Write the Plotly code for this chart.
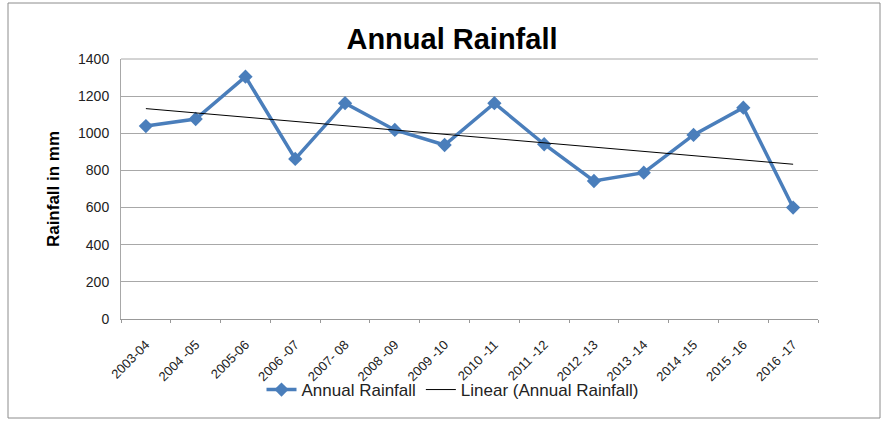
import numpy as np
import plotly.graph_objects as go

years = ["2003-04", "2004 -05", "2005-06", "2006 -07", "2007- 08", "2008 -09", "2009 -10",
         "2010 -11", "2011 -12", "2012 -13", "2013 -14", "2014 -15", "2015 -16", "2016 -17"]
rainfall = [1039, 1077, 1305, 862, 1162, 1018, 937, 1162, 941, 743, 788, 991, 1138, 600]

# Linear trend (least squares) computed from the data
idx = np.arange(len(rainfall))
slope, intercept = np.polyfit(idx, rainfall, 1)
trend = slope * idx + intercept

FONT = "Liberation Sans"

fig = go.Figure()
fig.add_trace(go.Scatter(
    x=years, y=rainfall, mode="lines+markers", name="Annual Rainfall",
    line=dict(color="#4A7EBB", width=3.5),
    marker=dict(symbol="diamond", size=11, color="#4A7EBB"),
))
fig.add_trace(go.Scatter(
    x=years, y=trend, mode="lines", name="Linear (Annual Rainfall)",
    line=dict(color="#000000", width=1),
))

L, R, T, B = 121, 818, 59, 319
W, H = 884, 421
def px(x):
    return (x - L) / (R - L)
def py(y):
    return (B - y) / (B - T)

fig.update_layout(
    width=W, height=H,
    margin=dict(l=L, r=W - R, t=T, b=H - B, autoexpand=False),
    paper_bgcolor="white", plot_bgcolor="white",
    font=dict(family=FONT, color="#000000"),
    title=dict(text="<b>Annual Rainfall</b>", x=452 / W, xanchor="center",
               y=1 - 39 / H, yanchor="middle", font=dict(size=29, family=FONT, color="#000")),
    showlegend=True,
    legend=dict(orientation="h", x=px(453), xanchor="center", y=py(390), yanchor="middle",
                font=dict(size=17, family=FONT, color="#222"), bgcolor="rgba(0,0,0,0)",
                tracegroupgap=0),
    xaxis=dict(
        type="category", tickangle=-45, tickfont=dict(size=13, family=FONT, color="#222"),
        showgrid=False, showline=True, linecolor="#999999", linewidth=1,
        ticks="outside", ticklen=3, tickcolor="#999999", tickson="boundaries",
        ticklabelstandoff=12,
        range=[-0.5, len(years) - 0.5], zeroline=False,
    ),
    yaxis=dict(
        range=[0, 1400], tickvals=[0, 200, 400, 600, 800, 1000, 1200, 1400],
        tickfont=dict(size=14, family=FONT, color="#222"),
        showgrid=True, gridcolor="#A8A8A8", gridwidth=1,
        showline=True, linecolor="#A8A8A8", linewidth=1, zeroline=False,
        ticks="", ticklabelstandoff=8,
        title=dict(text="<b>Rainfall in mm</b>", font=dict(size=17, family=FONT, color="#000"),
                   standoff=14),
    ),
    shapes=[
        dict(type="rect", xref="paper", yref="paper",
             x0=px(8), x1=px(880), y0=py(418), y1=py(3),
             line=dict(color="#8C8C8C", width=1), fillcolor="rgba(0,0,0,0)", layer="below"),
        dict(type="line", xref="paper", yref="paper",
             x0=0, x1=1, y0=1, y1=1, line=dict(color="#A8A8A8", width=1)),
    ],
)

fig.write_html("out.html", config={"displayModeBar": False},
               post_script="document.body.style.margin='0';document.body.style.overflow='hidden';")
